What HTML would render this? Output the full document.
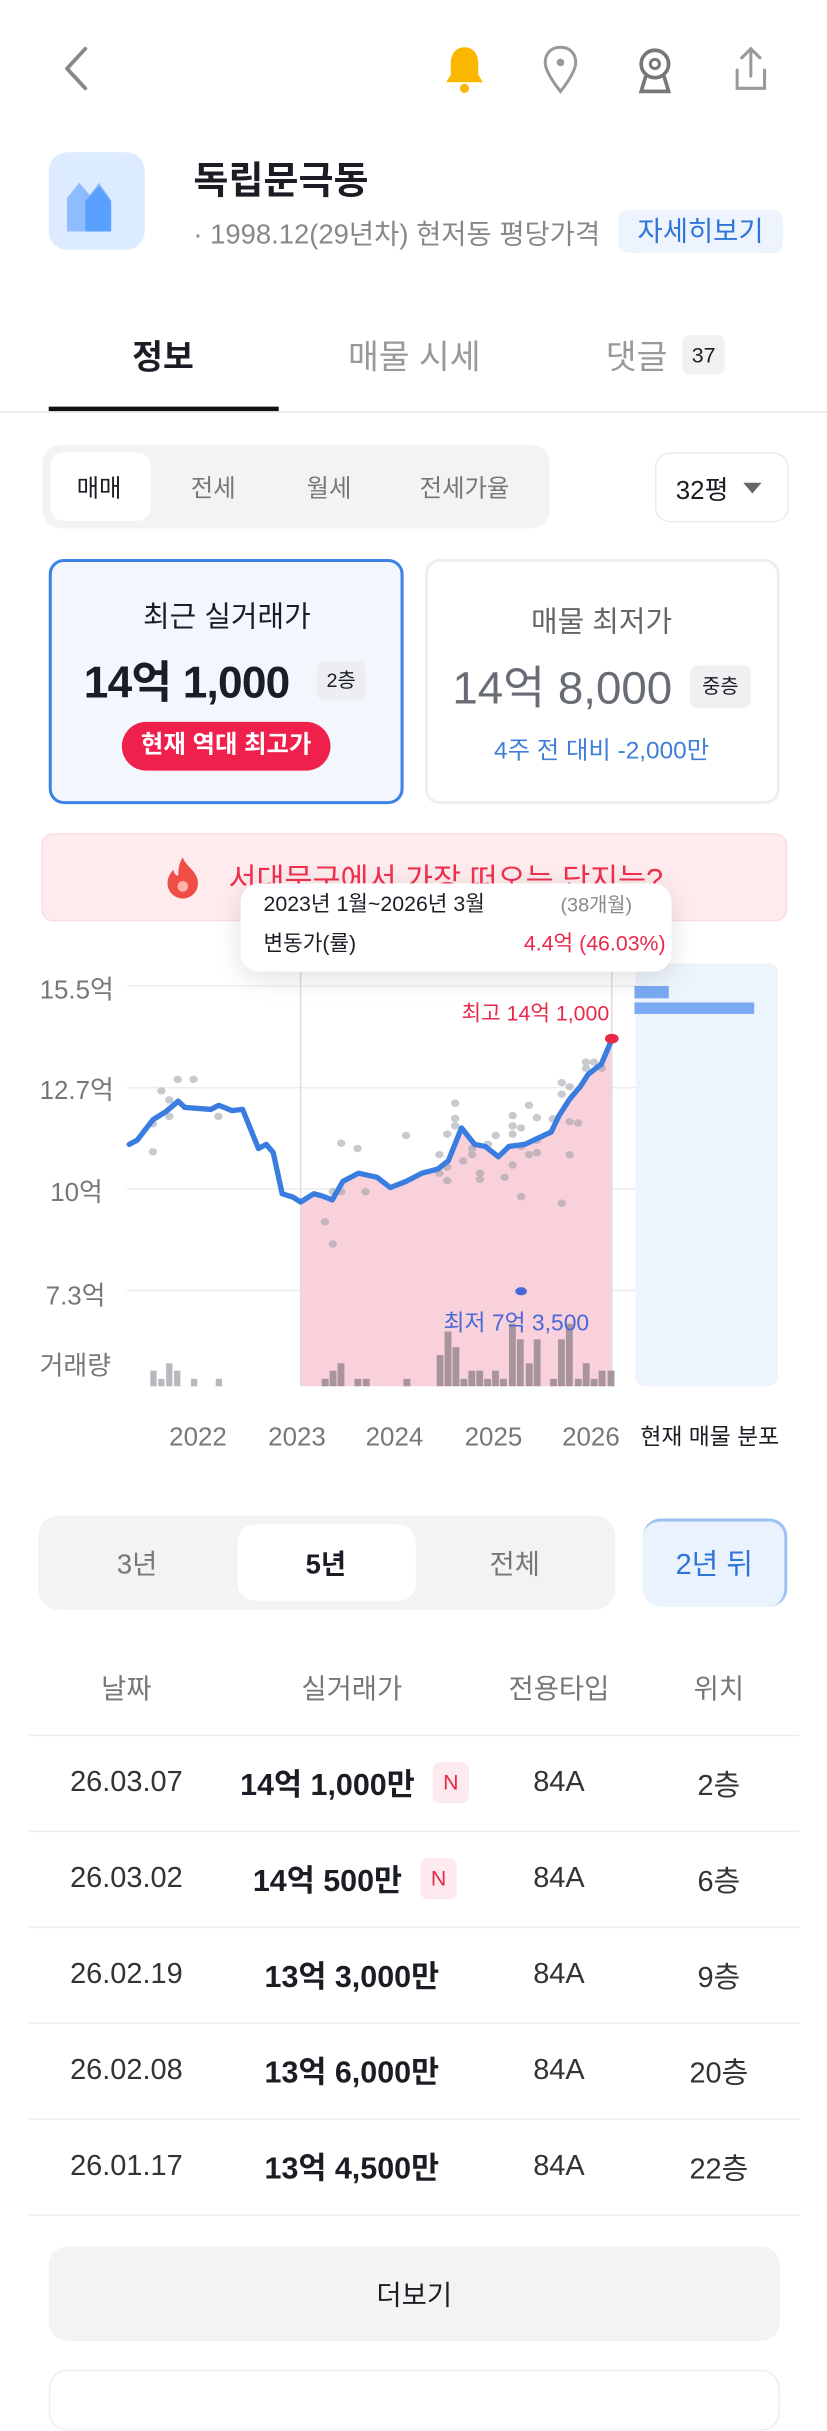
<!DOCTYPE html>
<html><head><meta charset="utf-8">
<style>
*{margin:0;padding:0;box-sizing:border-box}
html,body{width:827px;height:2390px;overflow:hidden;background:#fff}
#w{position:absolute;left:0;top:0;width:543px;height:1570px;transform:scale(1.523);transform-origin:0 0;font-family:"Liberation Sans","Noto Sans CJK KR",sans-serif;color:#1a1d24}
.a{position:absolute}
.c{position:absolute;transform:translate(-50%,-50%);white-space:nowrap}
.lb{position:absolute;transform:translateY(-50%);white-space:nowrap}
</style></head><body><div id="w">
<!-- header -->
<svg class="a" style="left:38px;top:28px" width="24" height="34" viewBox="0 0 24 34"><path d="M18 4 L6 17 L18 30" fill="none" stroke="#888" stroke-width="2.5" stroke-linecap="round" stroke-linejoin="round"/></svg>
<svg class="a" style="left:290px;top:28px" width="30" height="36" viewBox="0 0 30 36"><path d="M15 3c-6 0-9 5-9 10v8l-3 5h24l-3-5v-8c0-5-3-10-9-10z" fill="#fbb700"/><circle cx="15" cy="30" r="3" fill="#fbb700"/></svg>
<svg class="a" style="left:355px;top:28px" width="26" height="36" viewBox="0 0 26 36"><path d="M13 3c-6 0-10 4-10 10 0 7 10 19 10 19s10-12 10-19c0-6-4-10-10-10z" fill="none" stroke="#999" stroke-width="2"/><circle cx="13" cy="13" r="2.5" fill="#999"/></svg>
<svg class="a" style="left:416px;top:28px" width="28" height="36" viewBox="0 0 28 36"><circle cx="14" cy="14" r="9" fill="none" stroke="#777" stroke-width="2.4"/><circle cx="14" cy="14" r="3" fill="none" stroke="#777" stroke-width="2"/><path d="M8 22 L5 32 H23 L20 22" fill="none" stroke="#777" stroke-width="2.4"/></svg>
<svg class="a" style="left:480px;top:28px" width="26" height="36" viewBox="0 0 26 36"><path d="M13 4v18M7 10l6-6 6 6M4 18v12h18V18" fill="none" stroke="#999" stroke-width="2" stroke-linecap="round"/></svg>
<!-- title -->
<div class="a" style="left:32px;top:100px;width:63px;height:64px;border-radius:12px;background:#dcebff"></div>
<svg class="a" style="left:42px;top:118px" width="44" height="34" viewBox="0 0 44 34"><path d="M2 12 L10 2 L17 10 L23 2 L30 12 V34 H2Z" fill="#8fbcff"/><path d="M14 14 L23 4 L31 14 V34 H14Z" fill="#5aa0ff"/></svg>
<div class="lb" style="left:127px;top:117px;font-size:25px;font-weight:700">독립문극동</div>
<div class="lb" style="left:127px;top:153px;font-size:18px;color:#888">· 1998.12(29년차) 현저동 평당가격</div>
<div class="a" style="left:406px;top:138px;width:108px;height:28px;background:#edf4fd;border-radius:6px;color:#2f74d8;font-size:18px;text-align:center;line-height:28px">자세히보기</div>
<!-- tabs -->
<div class="c" style="left:107px;top:233px;font-size:22px;font-weight:700">정보</div>
<div class="c" style="left:272px;top:233px;font-size:22px;color:#999">매물 시세</div>
<div class="c" style="left:418px;top:233px;font-size:22px;color:#999">댓글</div>
<div class="a" style="left:448px;top:220px;width:28px;height:26px;background:#f1f1f1;border-radius:5px;font-size:14px;text-align:center;line-height:26px">37</div>
<div class="a" style="left:32px;top:267px;width:151px;height:3px;background:#111"></div>
<div class="a" style="left:0;top:270px;width:543px;height:1px;background:#e6e6e6"></div>
<!-- segment -->
<div class="a" style="left:28px;top:292px;width:333px;height:55px;background:#f3f3f3;border-radius:12px"></div>
<div class="a" style="left:33px;top:297px;width:66px;height:45px;background:#fff;border-radius:9px"></div>
<div class="c" style="left:65px;top:319px;font-size:16px">매매</div>
<div class="c" style="left:140px;top:319px;font-size:16px;color:#777">전세</div>
<div class="c" style="left:216px;top:319px;font-size:16px;color:#777">월세</div>
<div class="c" style="left:305px;top:319px;font-size:16px;color:#777">전세가율</div>
<div class="a" style="left:430px;top:297px;width:88px;height:46px;border:1.5px solid #ebebeb;border-radius:10px"></div>
<div class="c" style="left:461px;top:320px;font-size:17px">32평</div>
<div class="a" style="left:488px;top:317px;width:0;height:0;border-left:6px solid transparent;border-right:6px solid transparent;border-top:7px solid #666"></div>
<!-- cards -->
<div class="a" style="left:32px;top:367px;width:233px;height:161px;border:2.5px solid #3b82e6;border-radius:10px;background:#f3f7fd"></div>
<div class="c" style="left:149px;top:404px;font-size:19px">최근 실거래가</div>
<div class="lb" style="left:55px;top:446px;font-size:29px;font-weight:700;letter-spacing:-0.5px">14억 1,000</div>
<div class="a" style="left:208px;top:434px;width:32px;height:26px;background:#eceef1;border-radius:5px;font-size:13px;text-align:center;line-height:26px">2층</div>
<div class="a" style="left:80px;top:474px;width:137px;height:32px;background:#f0204c;border-radius:16px;color:#fff;font-size:16px;font-weight:700;text-align:center;line-height:32px">현재 역대 최고가</div>
<div class="a" style="left:279px;top:367px;width:233px;height:161px;border:2px solid #eceeef;border-radius:10px;background:#fff"></div>
<div class="c" style="left:395px;top:407px;font-size:19px;color:#666">매물 최저가</div>
<div class="lb" style="left:297px;top:449px;font-size:30px;color:#686c74">14억 8,000</div>
<div class="a" style="left:453px;top:437px;width:40px;height:28px;background:#f0f0f2;border-radius:5px;font-size:13px;text-align:center;line-height:28px">중층</div>
<div class="c" style="left:395px;top:491px;font-size:16px;color:#3f7fd8">4주 전 대비 -2,000만</div>
<!-- banner -->
<div class="a" style="left:27px;top:547px;width:490px;height:58px;background:#fdebee;border:1.5px solid #fbdde3;border-radius:8px"></div>
<svg class="a" style="left:108px;top:562px" width="24" height="28" viewBox="0 0 24 28"><path d="M12 1c2 6 10 9 10 17a10 10 0 0 1-20 0c0-4 2-7 4-9 0 3 2 4 3 4 0-5 1-9 3-12z" fill="#ef4e47"/><circle cx="12" cy="20" r="3.5" fill="#ffb0a8"/></svg>
<div class="lb" style="left:150px;top:576px;font-size:20px;color:#f0304e">서대문구에서 가장 떠오는 단지는?</div>
<!-- chart svg -->
<svg class="a" style="left:0;top:538.4px" width="543" height="426.8" viewBox="0 0 1568 1580" preserveAspectRatio="none">
<g stroke="#eeeeee" stroke-width="1" vector-effect="non-scaling-stroke">
<line x1="240" y1="405" x2="1440" y2="405" vector-effect="non-scaling-stroke"/><line x1="240" y1="652" x2="1440" y2="652" vector-effect="non-scaling-stroke"/><line x1="240" y1="898" x2="1440" y2="898" vector-effect="non-scaling-stroke"/><line x1="240" y1="1145" x2="1440" y2="1145" vector-effect="non-scaling-stroke"/></g>
<rect x="1205" y="350" width="270" height="1028" rx="20" fill="#eef4fc"/>
<rect x="1203" y="405" width="65" height="30" fill="#79aaf2"/>
<rect x="1203" y="445" width="227" height="28" fill="#79aaf2"/>
<path d="M570 930 L595 910 L610 915 L630 925 L650 880 L680 860 L715 870 L740 895 L770 880 L800 860 L830 850 L850 830 L875 750 L900 790 L920 795 L945 820 L965 795 L995 790 L1020 775 L1045 760 L1060 720 L1080 680 L1100 650 L1115 620 L1140 595 L1160 535 L1160 1378 L570 1378Z" fill="#f9d1da"/>
<line x1="570" y1="370" x2="570" y2="1378" stroke="#ddd" vector-effect="non-scaling-stroke"/>
<line x1="1160" y1="370" x2="1160" y2="1378" stroke="#ddd" vector-effect="non-scaling-stroke"/>
<g fill="#a8949e">
<rect x="285" y="1340" width="12" height="38" fill="#b8b8c0"/><rect x="300" y="1360" width="12" height="18" fill="#b8b8c0"/><rect x="315" y="1322" width="12" height="56" fill="#b8b8c0"/><rect x="330" y="1340" width="12" height="38" fill="#b8b8c0"/><rect x="362" y="1360" width="12" height="18" fill="#b8b8c0"/><rect x="409" y="1360" width="12" height="18" fill="#b8b8c0"/>
<rect x="610" y="1360" width="13" height="18"/><rect x="625" y="1340" width="13" height="38"/><rect x="640" y="1322" width="13" height="56"/><rect x="672" y="1360" width="13" height="18"/><rect x="688" y="1360" width="13" height="18"/><rect x="765" y="1360" width="13" height="18"/>
<rect x="828" y="1302" width="13" height="76"/><rect x="843" y="1245" width="13" height="133"/><rect x="858" y="1283" width="13" height="95"/><rect x="873" y="1360" width="13" height="18"/><rect x="888" y="1340" width="13" height="38"/><rect x="903" y="1340" width="13" height="38"/><rect x="918" y="1360" width="13" height="18"/><rect x="933" y="1340" width="13" height="38"/><rect x="948" y="1360" width="13" height="18"/><rect x="965" y="1226" width="13" height="152"/><rect x="980" y="1264" width="13" height="114"/><rect x="997" y="1322" width="13" height="56"/><rect x="1012" y="1264" width="13" height="114"/><rect x="1043" y="1360" width="13" height="18"/><rect x="1058" y="1264" width="13" height="114"/><rect x="1073" y="1226" width="13" height="152"/><rect x="1090" y="1360" width="13" height="18"/><rect x="1105" y="1322" width="13" height="56"/><rect x="1120" y="1360" width="13" height="18"/><rect x="1135" y="1340" width="13" height="38"/><rect x="1152" y="1340" width="13" height="38"/></g>
<g fill="#9a9ea6" opacity="0.55">
<ellipse cx="290" cy="808" rx="8" ry="9"/><ellipse cx="290" cy="740" rx="8" ry="9"/><ellipse cx="306" cy="660" rx="8" ry="9"/><ellipse cx="321" cy="682" rx="8" ry="9"/><ellipse cx="321" cy="722" rx="8" ry="9"/><ellipse cx="337" cy="632" rx="8" ry="9"/><ellipse cx="367" cy="632" rx="8" ry="9"/><ellipse cx="414" cy="722" rx="8" ry="9"/>
<ellipse cx="616" cy="978" rx="8" ry="9"/><ellipse cx="631" cy="1032" rx="8" ry="9"/><ellipse cx="631" cy="905" rx="8" ry="9"/><ellipse cx="647" cy="787" rx="8" ry="9"/><ellipse cx="647" cy="905" rx="8" ry="9"/><ellipse cx="678" cy="800" rx="8" ry="9"/><ellipse cx="693" cy="905" rx="8" ry="9"/><ellipse cx="770" cy="768" rx="8" ry="9"/>
<ellipse cx="833" cy="815" rx="8" ry="9"/><ellipse cx="833" cy="860" rx="8" ry="9"/><ellipse cx="848" cy="845" rx="8" ry="9"/><ellipse cx="848" cy="878" rx="8" ry="9"/><ellipse cx="848" cy="765" rx="8" ry="9"/><ellipse cx="863" cy="690" rx="8" ry="9"/><ellipse cx="863" cy="727" rx="8" ry="9"/><ellipse cx="863" cy="745" rx="8" ry="9"/><ellipse cx="878" cy="830" rx="8" ry="9"/><ellipse cx="895" cy="800" rx="8" ry="9"/><ellipse cx="895" cy="815" rx="8" ry="9"/><ellipse cx="910" cy="860" rx="8" ry="9"/><ellipse cx="910" cy="875" rx="8" ry="9"/><ellipse cx="925" cy="790" rx="8" ry="9"/><ellipse cx="940" cy="768" rx="8" ry="9"/><ellipse cx="957" cy="870" rx="8" ry="9"/><ellipse cx="972" cy="720" rx="8" ry="9"/><ellipse cx="972" cy="745" rx="8" ry="9"/><ellipse cx="972" cy="765" rx="8" ry="9"/><ellipse cx="972" cy="840" rx="8" ry="9"/><ellipse cx="988" cy="750" rx="8" ry="9"/><ellipse cx="988" cy="795" rx="8" ry="9"/><ellipse cx="988" cy="917" rx="8" ry="9"/><ellipse cx="1003" cy="695" rx="8" ry="9"/><ellipse cx="1003" cy="815" rx="8" ry="9"/><ellipse cx="1018" cy="725" rx="8" ry="9"/><ellipse cx="1018" cy="810" rx="8" ry="9"/><ellipse cx="1018" cy="780" rx="8" ry="9"/><ellipse cx="1048" cy="728" rx="8" ry="9"/><ellipse cx="1065" cy="640" rx="8" ry="9"/><ellipse cx="1065" cy="668" rx="8" ry="9"/><ellipse cx="1065" cy="933" rx="8" ry="9"/><ellipse cx="1080" cy="650" rx="8" ry="9"/><ellipse cx="1080" cy="735" rx="8" ry="9"/><ellipse cx="1080" cy="815" rx="8" ry="9"/><ellipse cx="1096" cy="738" rx="8" ry="9"/><ellipse cx="1111" cy="590" rx="8" ry="9"/><ellipse cx="1111" cy="605" rx="8" ry="9"/><ellipse cx="1126" cy="590" rx="8" ry="9"/><ellipse cx="1141" cy="605" rx="8" ry="9"/></g>
<path d="M245 790 L260 780 L290 730 L315 710 L338 685 L350 700 L400 705 L415 695 L440 708 L460 705 L490 800 L505 790 L518 810 L535 910 L555 918 L570 930 L595 910 L610 915 L630 925 L650 880 L680 860 L715 870 L740 895 L770 880 L800 860 L830 850 L850 830 L875 750 L900 790 L920 795 L945 820 L965 795 L995 790 L1020 775 L1045 760 L1060 720 L1080 680 L1100 650 L1115 620 L1140 595 L1160 535" fill="none" stroke="#3a7de0" stroke-width="3.5" stroke-linejoin="round" stroke-linecap="round" vector-effect="non-scaling-stroke"/>
<ellipse cx="1160" cy="533" rx="13" ry="12" fill="#e8294a"/>
<ellipse cx="988" cy="1147" rx="11" ry="10" fill="#4a68d8"/>
</svg>
<!-- tooltip -->
<div class="a" style="left:158px;top:580px;width:283px;height:58px;background:#fff;border-radius:12px;box-shadow:0 4px 18px rgba(0,0,0,0.12)"></div>
<div class="lb" style="left:173px;top:593px;font-size:14px">2023년 1월~2026년 3월</div>
<div class="lb" style="left:368px;top:593px;font-size:13px;color:#888">(38개월)</div>
<div class="lb" style="left:173px;top:619px;font-size:14px">변동가(률)</div>
<div class="lb" style="left:344px;top:619px;font-size:14px;color:#e8294a">4.4억 (46.03%)</div>
<!-- chart labels -->
<div class="lb" style="left:26px;top:648px;font-size:17px;color:#777">15.5억</div>
<div class="lb" style="left:26px;top:714px;font-size:17px;color:#777">12.7억</div>
<div class="lb" style="left:33px;top:781px;font-size:17px;color:#777">10억</div>
<div class="lb" style="left:30px;top:849px;font-size:17px;color:#777">7.3억</div>
<div class="lb" style="left:26px;top:895px;font-size:17px;color:#777">거래량</div>
<div class="lb" style="left:303px;top:665px;font-size:14px;color:#e8294a">최고 14억 1,000</div>
<div class="c" style="left:339px;top:868px;font-size:15px;color:#4a68d8">최저 7억 3,500</div>
<div class="c" style="left:130px;top:944px;font-size:17px;color:#777">2022</div>
<div class="c" style="left:195px;top:944px;font-size:17px;color:#777">2023</div>
<div class="c" style="left:259px;top:944px;font-size:17px;color:#777">2024</div>
<div class="c" style="left:324px;top:944px;font-size:17px;color:#777">2025</div>
<div class="c" style="left:388px;top:944px;font-size:17px;color:#777">2026</div>
<div class="c" style="left:466px;top:943px;font-size:15px">현재 매물 분포</div>
<!-- range seg -->
<div class="a" style="left:25px;top:995px;width:379px;height:62px;background:#f3f3f3;border-radius:14px"></div>
<div class="a" style="left:156px;top:1001px;width:117px;height:50px;background:#fff;border-radius:11px"></div>
<div class="c" style="left:90px;top:1026px;font-size:18px;color:#777">3년</div>
<div class="c" style="left:214px;top:1026px;font-size:18px;font-weight:700">5년</div>
<div class="c" style="left:338px;top:1026px;font-size:18px;color:#777">전체</div>
<div class="a" style="left:422px;top:997px;width:95px;height:58px;background:#eaf2fd;border-radius:12px;border-top:2px solid #9bc1f4;border-right:2px solid #9bc1f4"></div>
<div class="c" style="left:469px;top:1026px;font-size:19px;color:#2f74d8">2년 뒤</div>
<!-- table -->
<div class="c" style="left:83px;top:1108px;font-size:18px;color:#777">날짜</div>
<div class="c" style="left:231px;top:1108px;font-size:18px;color:#777">실거래가</div>
<div class="c" style="left:367px;top:1108px;font-size:18px;color:#777">전용타입</div>
<div class="c" style="left:472px;top:1108px;font-size:18px;color:#777">위치</div>
<div class="a" style="left:19px;top:1139px;width:506px;height:1px;background:#eee"></div>
<div class="a" style="left:19px;top:1202px;width:506px;height:1px;background:#eee"></div>
<div class="a" style="left:19px;top:1265px;width:506px;height:1px;background:#eee"></div>
<div class="a" style="left:19px;top:1328px;width:506px;height:1px;background:#eee"></div>
<div class="a" style="left:19px;top:1391px;width:506px;height:1px;background:#eee"></div>
<div class="a" style="left:19px;top:1454px;width:506px;height:1px;background:#eee"></div>
<div class="c" style="left:83px;top:1171px;font-size:19px;color:#333">26.03.07</div>
<div class="c" style="left:215px;top:1170px;font-size:20px;font-weight:700">14억 1,000만</div>
<div class="a" style="left:284px;top:1157px;width:24px;height:27px;background:#fdeaee;border-radius:5px;color:#e8294a;font-size:14px;text-align:center;line-height:27px">N</div>
<div class="c" style="left:83px;top:1234px;font-size:19px;color:#333">26.03.02</div>
<div class="c" style="left:215px;top:1233px;font-size:20px;font-weight:700">14억 500만</div>
<div class="a" style="left:276px;top:1220px;width:24px;height:27px;background:#fdeaee;border-radius:5px;color:#e8294a;font-size:14px;text-align:center;line-height:27px">N</div>
<div class="c" style="left:83px;top:1297px;font-size:19px;color:#333">26.02.19</div>
<div class="c" style="left:231px;top:1296px;font-size:20px;font-weight:700">13억 3,000만</div>
<div class="c" style="left:83px;top:1360px;font-size:19px;color:#333">26.02.08</div>
<div class="c" style="left:231px;top:1359px;font-size:20px;font-weight:700">13억 6,000만</div>
<div class="c" style="left:83px;top:1423px;font-size:19px;color:#333">26.01.17</div>
<div class="c" style="left:231px;top:1422px;font-size:20px;font-weight:700">13억 4,500만</div>
<div class="c" style="left:367px;top:1171px;font-size:19px;color:#333">84A</div>
<div class="c" style="left:367px;top:1234px;font-size:19px;color:#333">84A</div>
<div class="c" style="left:367px;top:1297px;font-size:19px;color:#333">84A</div>
<div class="c" style="left:367px;top:1360px;font-size:19px;color:#333">84A</div>
<div class="c" style="left:367px;top:1423px;font-size:19px;color:#333">84A</div>
<div class="c" style="left:472px;top:1171px;font-size:19px;color:#333">2층</div>
<div class="c" style="left:472px;top:1234px;font-size:19px;color:#333">6층</div>
<div class="c" style="left:472px;top:1297px;font-size:19px;color:#333">9층</div>
<div class="c" style="left:472px;top:1360px;font-size:19px;color:#333">20층</div>
<div class="c" style="left:472px;top:1423px;font-size:19px;color:#333">22층</div>
<div class="a" style="left:32px;top:1475px;width:480px;height:62px;background:#f3f3f3;border-radius:12px"></div>
<div class="c" style="left:272px;top:1506px;font-size:18px">더보기</div>
<div class="a" style="left:32px;top:1556px;width:480px;height:40px;border:1.5px solid #eee;border-radius:12px"></div>
</div></body></html>
